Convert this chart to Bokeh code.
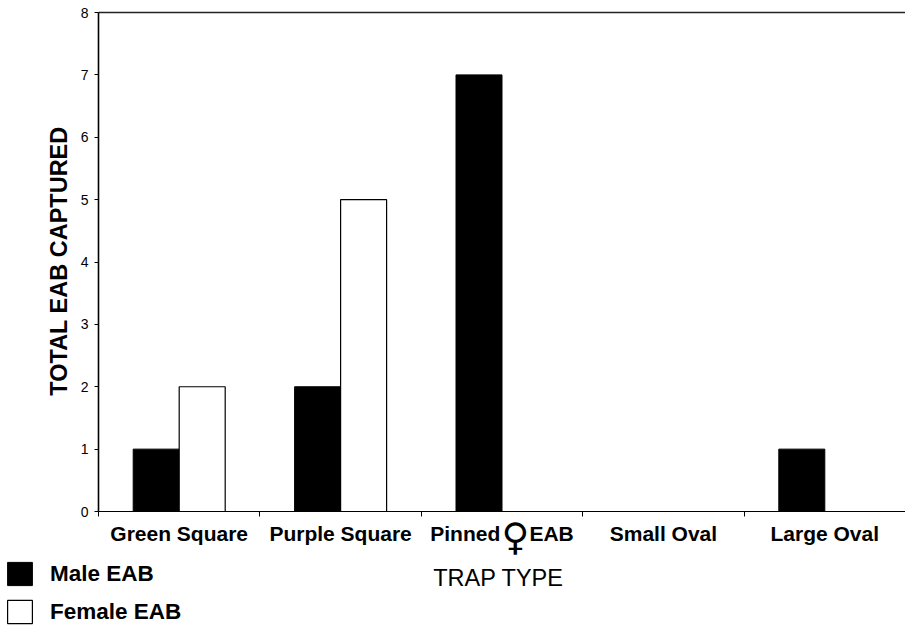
import math
from bokeh.plotting import figure
from bokeh.models import FixedTicker, Label, Legend, LegendItem, LinearAxis, Range1d
from bokeh.embed import file_html
from bokeh.resources import INLINE

# ---- data ----
categories = ["Green Square", "Purple Square", "Pinned\u00a0\u00a0\u00a0\u00a0\u00a0EAB", "Small Oval", "Large Oval"]
male_eab = [1, 2, 7, 0, 1]
female_eab = [2, 5, 0, 0, 0]
y_ticks = [0, 1, 2, 3, 4, 5, 6, 7, 8]
y_max = 8

# ---- layout (pixels of the canvas) ----
W, H = 905, 626
LEFT_PX, TOP_PX, BOTTOM_PX = 98, 12, 511
CAT_PX = (W - LEFT_PX) / len(categories)
x_start = 0.5 - LEFT_PX / CAT_PX
x_end = x_start + W / CAT_PX
y_per_px = y_max / (BOTTOM_PX - TOP_PX)
y_end = y_max + TOP_PX * y_per_px
y_start = -(H - BOTTOM_PX) * y_per_px


def X(px):
    return x_start + px / CAT_PX


def Y(py):
    return y_end - py * y_per_px


FONT = "Liberation Sans"
bar_w = 46 / CAT_PX

idx = list(range(1, len(categories) + 1))
x_male = [i - bar_w / 2 for i in idx]
x_female = [i + bar_w / 2 for i in idx]
n = len(categories)

p = figure(width=W, height=H, x_range=Range1d(x_start, x_end), y_range=Range1d(y_start, y_end),
           output_backend="svg", toolbar_location=None, min_border=0)
p.grid.visible = False
p.outline_line_color = None
p.background_fill_color = "white"
p.border_fill_color = "white"

male_r = p.vbar(x=x_male, top=male_eab, width=bar_w, bottom=0,
                fill_color="black", line_color="black", line_width=1)
female_r = p.vbar(x=x_female, top=female_eab, width=bar_w, bottom=0,
                  fill_color="white", line_color="black", line_width=1.2)

# x axis at y = 0
xa = p.xaxis[0]
xa.fixed_location = 0
xa.bounds = (0.5, n + 0.5)
xa.ticker = FixedTicker(ticks=idx, minor_ticks=[i - 0.5 for i in idx] + [n + 0.5])
xa.major_label_overrides = {i: c for i, c in zip(idx, categories)}
xa.major_tick_line_color = None
xa.major_tick_out = 0
xa.major_tick_in = 0
xa.minor_tick_out = 5
xa.minor_tick_in = 0
xa.minor_tick_line_color = "black"
xa.axis_line_color = "black"
xa.axis_line_width = 1.2
xa.major_label_text_font = FONT
xa.major_label_text_font_style = "bold"
xa.major_label_text_font_size = "21px"
xa.major_label_text_color = "black"
xa.major_label_standoff = 5

# top frame line
top_ax = LinearAxis(fixed_location=y_max, bounds=(0.5, n + 0.5),
                    ticker=FixedTicker(ticks=[]), major_tick_line_color=None,
                    minor_tick_line_color=None, major_label_text_font_size="0px",
                    axis_line_color="#222222", axis_line_width=1.5)
p.add_layout(top_ax, "above")

# y axis at x = 0.5
ya = p.yaxis[0]
ya.fixed_location = 0.5
ya.bounds = (0, y_max)
ya.ticker = FixedTicker(ticks=y_ticks)
ya.minor_tick_line_color = None
ya.major_tick_out = 4
ya.major_tick_in = 0
ya.major_tick_line_color = "black"
ya.axis_line_color = "black"
ya.axis_line_width = 1.6
ya.major_label_text_font = FONT
ya.major_label_text_font_size = "14px"
ya.major_label_text_color = "black"
ya.major_label_standoff = 6

# axis titles
p.add_layout(Label(x=X(58), y=Y(260.5), angle=math.pi / 2, text="TOTAL EAB CAPTURED",
                   text_font=FONT, text_font_style="bold", text_font_size="23.5px",
                   text_align="center", text_baseline="alphabetic", text_color="black"))
p.add_layout(Label(x=X(498), y=Y(577.5), text="TRAP TYPE",
                   text_font=FONT, text_font_size="23.5px",
                   text_align="center", text_baseline="alphabetic", text_color="black"))

# female symbol in the "Pinned EAB" label
p.add_layout(Label(x=X(515), y=Y(536), text="\u2640",
                   text_font="DejaVu Sans", text_font_size="38px",
                   text_align="center", text_baseline="middle", text_color="black"))

legend = Legend(items=[LegendItem(label="Male EAB", renderers=[male_r]),
                       LegendItem(label="Female EAB", renderers=[female_r])],
                location=(4, 0), orientation="vertical",
                glyph_width=31, glyph_height=29, label_height=29,
                spacing=9, label_standoff=15, padding=0, margin=0,
                border_line_color=None, background_fill_alpha=0,
                label_text_font=FONT, label_text_font_style="bold",
                label_text_font_size="22.5px", label_text_color="black")
p.add_layout(legend)

open("out.html", "w").write(file_html(p, INLINE))
